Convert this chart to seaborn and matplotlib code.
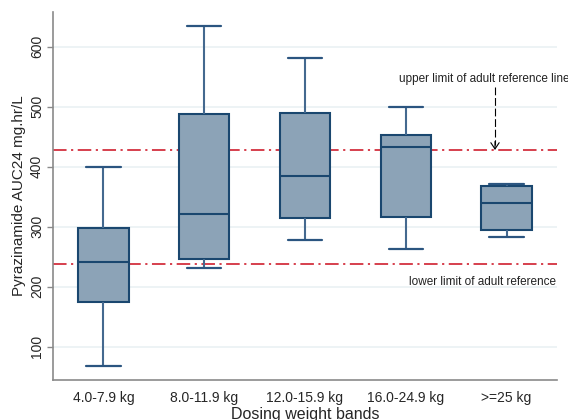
import pandas as pd
import seaborn as sns
import matplotlib.pyplot as plt

# Pyrazinamide AUC24 by dosing weight band (five-number summaries)
bands = ['4.0-7.9 kg', '8.0-11.9 kg', '12.0-15.9 kg', '16.0-24.9 kg', '>=25 kg']
band_4_8 = [68, 175, 242, 298, 399]
band_8_12 = [232, 247, 322, 488, 634]
band_12_16 = [278, 314, 385, 489, 582]
band_16_25 = [263, 316, 433, 453, 499]
band_25_up = [283, 294, 340, 368, 371]

upper_ref = 428
lower_ref = 238
yticks = [100, 200, 300, 400, 500, 600]

groups = [band_4_8, band_8_12, band_12_16, band_16_25, band_25_up]
df = pd.DataFrame({'band': [b for b, g in zip(bands, groups) for _ in g],
                   'auc': [v for g in groups for v in g]})

sns.set_style('white')
plt.rcParams['font.family'] = ['Liberation Sans', 'DejaVu Sans']

navy = '#1A476F'
fig = plt.figure(figsize=(5.68, 4.2), dpi=100)
ax = fig.add_axes([53 / 568, 40 / 420, 504 / 568, 368 / 420])

# grid + reference lines behind the boxes
for t in yticks:
    ax.axhline(t, color='#EAF1F3', lw=1.2, zorder=0)
ax.axhline(upper_ref, color='#D3303F', lw=1.3, ls=(0, (7.5, 2.5, 1.2, 2.5)), zorder=1)
ax.axhline(lower_ref, color='#D3303F', lw=1.3, ls=(0, (7.5, 2.5, 1.2, 2.5)), zorder=1)

sns.boxplot(data=df, x='band', y='auc', order=bands, whis=(0, 100), width=0.5,
            color='#8CA3B7', saturation=1, linecolor=navy, linewidth=1.5, ax=ax,
            whiskerprops={'color': '#44698F', 'linewidth': 1.5},
            capprops={'color': '#2B5580', 'linewidth': 1.6},
            medianprops={'color': navy, 'linewidth': 1.5}, zorder=3)

# widen the whisker caps a little (Stata style)
for ln in ax.lines:
    x = ln.get_xdata()
    y = ln.get_ydata()
    if len(x) == 2 and y[0] == y[1] and abs(abs(x[1] - x[0]) - 0.25) < 1e-6:
        c = (x[0] + x[1]) / 2
        ln.set_xdata([c - 0.17, c + 0.17])

# annotations
ax.plot([3.885, 3.885], [533, 436], color='black', lw=0.8, ls=(0, (7, 2.5)), zorder=4)
ax.annotate('', xy=(3.885, upper_ref), xytext=(3.885, 442),
            arrowprops=dict(arrowstyle='->,head_width=0.3,head_length=0.45',
                            lw=0.8, color='black', shrinkA=0, shrinkB=0), zorder=4)
ax.text(2.934, 547, 'upper limit of adult reference line', fontsize=8.5,
        ha='left', va='center', color='#222222')
ax.text(4.488, 208, 'lower limit of adult reference', fontsize=8.5,
        ha='right', va='center', color='#222222')

ax.set_xlim(-0.5, 4.5)
ax.set_ylim(44.5, 658)
ax.set_yticks(yticks)
ax.set_yticklabels([str(t) for t in yticks], rotation=90, va='center', fontsize=10)
ax.tick_params(axis='y', length=4.5, width=1, color='#8A8A8A', pad=2, left=True)
ax.tick_params(axis='x', length=0, pad=8, labelsize=10)
ax.set_xlabel('Dosing weight bands', fontsize=11.5, labelpad=1)
ax.set_ylabel('Pyrazinamide AUC24 mg.hr/L', fontsize=11, labelpad=3)

for s in ['top', 'right']:
    ax.spines[s].set_visible(False)
for s in ['left', 'bottom']:
    ax.spines[s].set_color('#8A8A8A')
    ax.spines[s].set_linewidth(1.2)

fig.savefig('out.png', dpi=100)
